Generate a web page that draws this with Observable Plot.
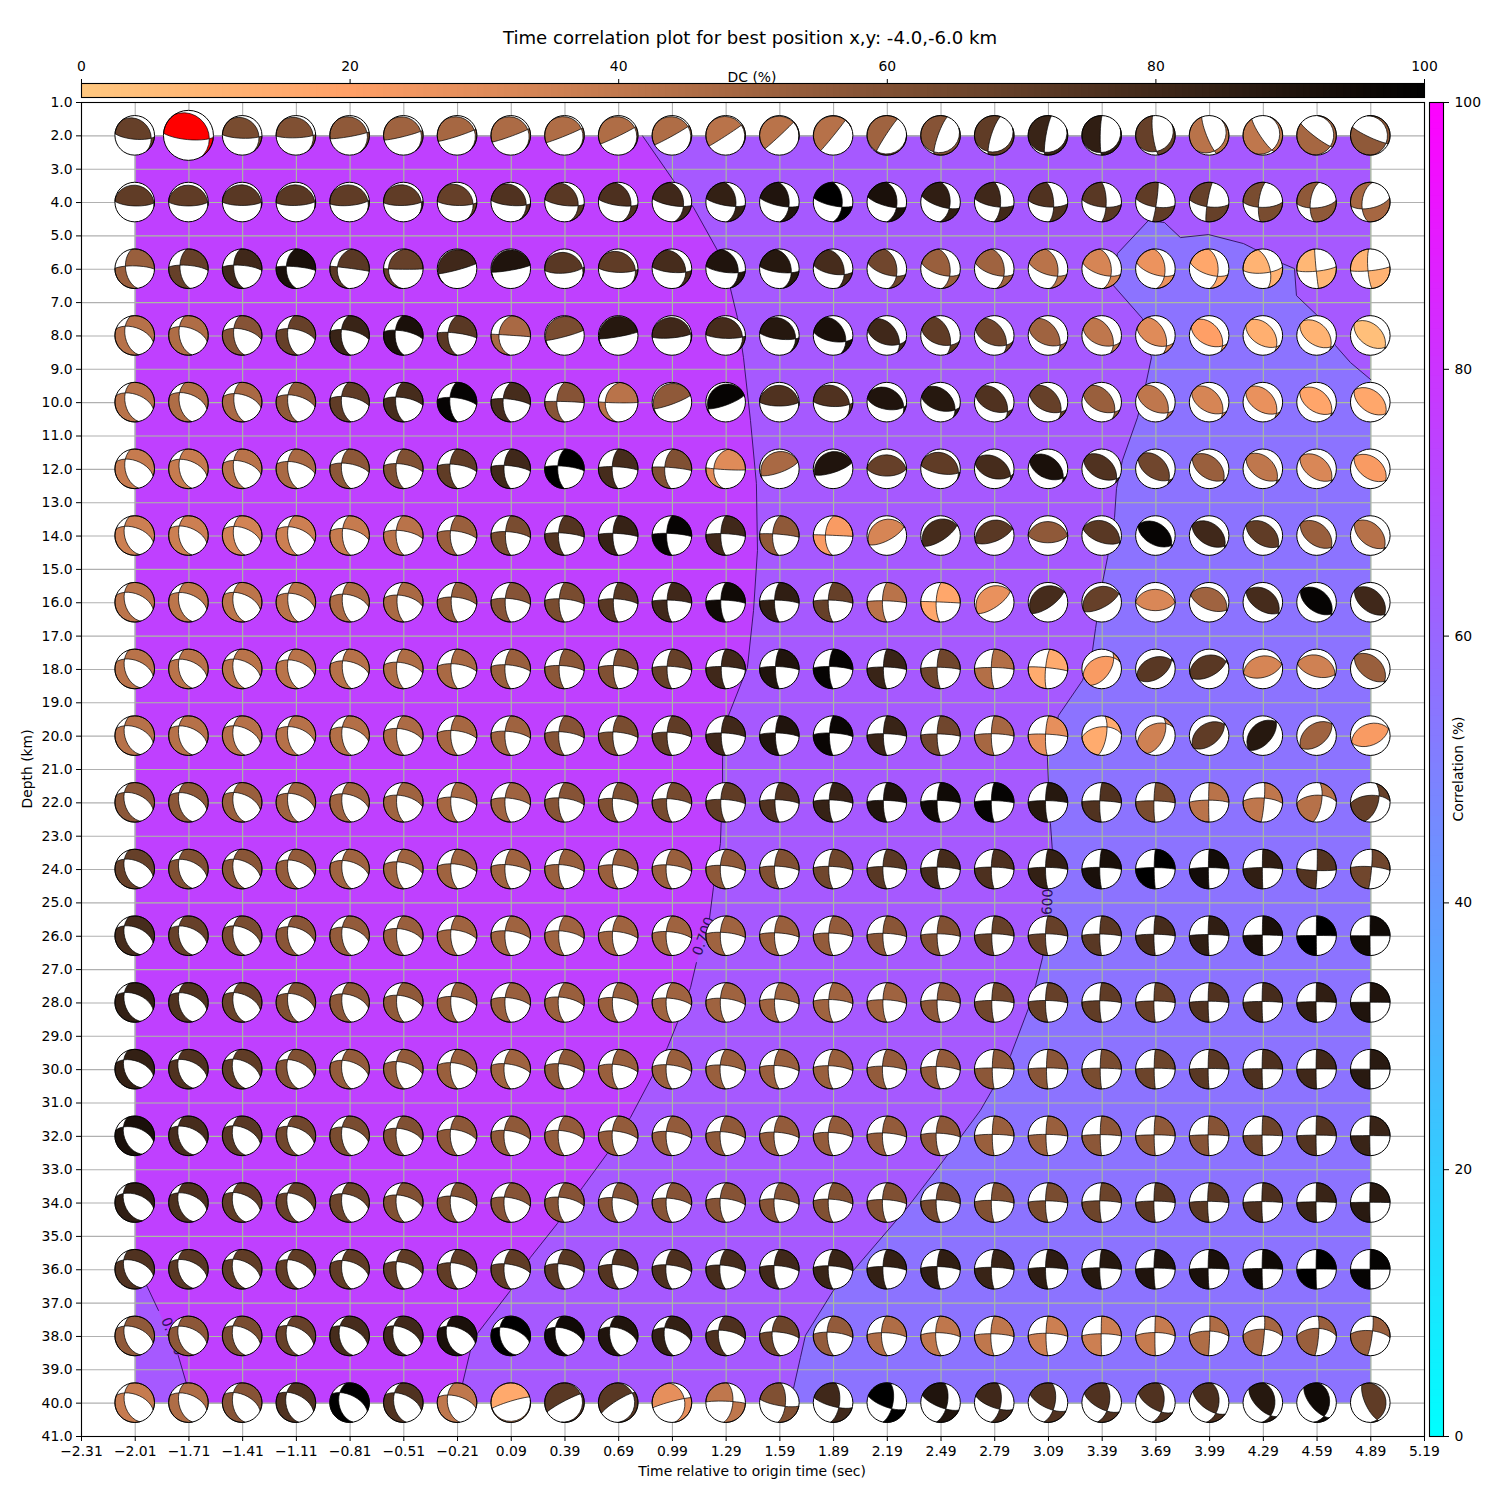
<!DOCTYPE html>
<html><head><meta charset="utf-8">
<script src="https://cdn.jsdelivr.net/npm/d3@7"></script>
<script src="https://cdn.jsdelivr.net/npm/@observablehq/plot@0.6"></script>
<style>
html,body{margin:0;padding:0;background:#fff}
#page{position:relative;width:1500px;height:1500px;overflow:hidden;font-family:"DejaVu Sans";color:#000}
#page svg{position:absolute;top:0}
.lab{position:absolute;white-space:nowrap;font-size:13.9px;line-height:16px;transform:translate(-50%,-50%)}
</style></head><body><div id="page"></div>
<script>
const times=[-2.01,-1.71,-1.41,-1.11,-0.81,-0.51,-0.21,0.09,0.39,0.69,0.99,1.29,1.59,1.89,2.19,2.49,2.79,3.09,3.39,3.69,3.99,4.29,4.59,4.89];
const xTicks=[-2.31,...times,5.19];
const yTicks=d3.range(1,42);
const dcTicks=[0,20,40,60,80,100];
const corrTicks=[0,20,40,60,80,100];
// each ball: [strike, dip (sign = polarity), position of the null axis along the plane, DC %]
const d2=[[95,74,17,68],[95,76,17,68],[92,78,16,62],[88,80,14,60],[80,85,12,55],[76,85,11,50],[72,86,10,48],[70,86,10,46],[68,87,9,45],[64,87,9,45],[61,87,8,45],[57,88,6,42],[47,88,3,42],[39,88,1,43],[213,-86,5,50],[200,-80,11,58],[198,-78,14,70],[190,-82,14,82],[181,-84,14,85],[172,-80,20,68],[158,-80,18,42],[146,-80,14,40],[127,-82,12,48],[115,-82,12,55]];
const d4=[[92,74,3,70],[90,74,3,70],[90,76,4,72],[88,76,5,72],[85,76,8,70],[88,76,10,70],[92,76,20,68],[95,76,22,75],[97,76,30,72],[98,76,34,76],[100,76,39,80],[100,76,45,84],[102,75,47,90],[102,75,50,100],[105,74,45,92],[108,72,47,85],[100,72,62,80],[95,70,65,75],[97,70,70,72],[100,70,85,70],[97,70,97,68],[90,68,108,62],[85,66,118,55],[78,65,128,48]];
const d6=[[172,52,105,52],[175,55,107,68],[175,55,107,80],[178,50,101,92],[185,38,93,72],[185,26,85,68],[75,-85,177,80],[80,-84,178,90],[85,72,10,72],[92,75,14,70],[95,75,30,78],[97,75,35,90],[97,75,38,88],[100,68,40,78],[107,66,43,65],[107,66,45,52],[107,66,43,50],[107,66,43,42],[107,66,45,33],[108,66,45,26],[108,66,48,16],[85,72,60,10],[84,80,92,8],[84,82,100,10]];
const d8=[[168,50,134,43],[170,52,131,45],[173,55,122,58],[175,56,120,68],[177,55,115,82],[178,56,112,92],[180,52,102,72],[183,40,91,47],[75,-85,177,62],[80,-85,178,88],[85,80,5,80],[92,78,16,78],[97,75,18,88],[100,65,33,92],[105,52,30,80],[107,52,40,70],[108,50,30,65],[108,50,30,50],[110,50,31,40],[112,50,32,30],[115,50,20,20],[120,50,15,12],[122,50,11,10],[125,48,6,4]];
const d10=[[168,50,134,42],[170,52,134,45],[173,56,128,47],[175,56,122,55],[176,56,115,70],[177,58,112,78],[178,60,110,98],[180,58,104,78],[180,58,93,58],[185,35,85,42],[70,-82,176,55],[70,-78,175,98],[90,74,3,75],[92,72,18,75],[100,60,13,90],[105,55,22,88],[110,52,24,75],[112,52,24,68],[112,52,24,52],[115,52,23,40],[118,50,17,33],[120,50,15,27],[122,50,8,17],[125,50,3,16]];
const d12=[[168,50,136,38],[170,52,134,38],[172,54,128,42],[175,56,122,47],[176,56,115,56],[178,60,112,60],[178,60,110,70],[180,62,104,80],[180,62,102,100],[180,65,99,78],[182,60,96,60],[187,40,85,30],[70,-75,178,47],[72,-75,178,90],[90,60,2,68],[100,70,8,70],[105,50,14,78],[112,50,14,92],[115,50,14,75],[120,50,15,65],[122,50,9,52],[122,50,11,40],[123,50,7,32],[125,50,3,22]];
const d14=[[165,48,136,36],[170,50,134,36],[172,54,131,34],[175,56,128,36],[177,60,120,38],[178,60,112,42],[179,62,110,52],[180,68,106,62],[180,65,101,74],[180,68,99,83],[180,68,99,98],[180,70,98,80],[182,62,96,55],[182,58,91,22],[62,70,2,33],[57,70,2,78],[68,66,2,72],[90,60,1,55],[110,62,3,72],[118,52,6,98],[120,52,6,80],[122,52,6,70],[125,50,6,52],[127,50,7,43]];
const d16=[[163,49,140,41],[168,50,136,41],[172,52,134,41],[173,57,130,42],[175,60,125,46],[178,64,120,47],[178,66,112,53],[180,67,106,58],[180,68,104,62],[180,70,104,72],[180,70,99,80],[180,70,99,95],[180,70,99,85],[180,70,99,68],[180,72,96,42],[182,72,91,16],[55,70,2,27],[55,70,3,78],[62,68,3,68],[90,55,1,32],[112,60,3,50],[122,55,4,78],[125,52,5,98],[127,52,6,80]];
const d18=[[163,49,140,42],[168,50,136,42],[172,52,134,42],[173,56,130,42],[175,60,125,43],[178,62,118,45],[178,65,112,47],[180,66,107,52],[180,68,104,56],[180,70,104,60],[180,70,101,68],[180,72,100,80],[180,74,100,90],[180,74,100,98],[180,76,98,82],[180,76,97,65],[180,78,96,44],[185,80,95,14],[250,-40,151,22],[55,50,10,72],[62,60,8,72],[75,55,2,33],[105,58,3,35],[127,52,6,52]];
const d20=[[163,49,140,43],[168,50,136,43],[172,52,134,43],[173,56,130,43],[175,58,127,44],[178,62,120,46],[178,64,112,48],[180,66,108,50],[180,66,106,58],[180,68,105,62],[180,70,104,70],[180,72,101,80],[180,74,101,90],[180,75,101,97],[180,76,98,82],[180,76,97,65],[180,78,98,48],[182,80,96,28],[265,-53,114,14],[245,-42,148,35],[50,52,5,70],[42,55,3,88],[50,50,3,50],[68,50,2,22]];
const d22=[[163,48,140,56],[168,50,136,56],[172,52,134,52],[173,56,130,50],[175,58,127,50],[178,62,120,50],[178,64,112,48],[180,66,108,50],[180,66,108,58],[180,66,106,60],[180,68,105,63],[180,70,102,70],[180,72,101,75],[180,74,100,83],[180,76,98,90],[180,76,98,95],[180,78,97,98],[180,80,97,88],[181,82,96,75],[181,84,96,62],[180,88,99,42],[5,85,72,40],[10,70,58,43],[17,58,55,68]];
const d24=[[163,48,140,68],[168,50,136,60],[172,52,134,57],[173,56,130,54],[175,58,127,50],[178,62,120,50],[178,64,112,50],[180,66,108,50],[180,66,108,52],[180,66,107,52],[180,66,107,52],[180,68,105,55],[180,70,102,60],[180,72,101,65],[180,74,100,72],[180,76,98,78],[180,78,98,76],[180,80,97,84],[180,82,97,92],[180,85,96,100],[180,87,96,94],[180,88,96,85],[2,88,96,74],[5,85,80,65]];
const d26=[[163,48,140,78],[168,50,136,68],[172,52,134,62],[173,56,130,57],[175,58,127,54],[178,62,120,52],[178,64,115,50],[180,66,110,50],[180,66,110,50],[180,66,108,50],[180,66,107,50],[180,68,104,50],[180,70,102,52],[180,72,101,54],[180,74,100,57],[180,76,98,60],[180,80,98,68],[180,80,98,68],[180,82,97,72],[180,84,96,78],[180,86,95,85],[180,88,93,92],[180,89,91,100],[180,89,90,95]];
const d28=[[163,48,140,84],[168,50,136,75],[172,52,134,67],[173,56,130,60],[175,58,127,56],[178,62,120,55],[178,64,115,53],[180,66,110,52],[180,64,112,52],[180,66,110,52],[180,66,108,50],[180,68,107,50],[180,70,104,50],[180,72,102,50],[180,74,101,50],[180,76,100,56],[180,80,98,65],[180,80,98,68],[180,82,97,70],[180,84,96,68],[180,86,95,75],[180,87,94,78],[180,88,93,85],[180,89,91,90]];
const d30=[[160,47,140,84],[165,48,138,75],[170,50,136,70],[173,53,132,60],[175,57,128,54],[177,60,122,54],[178,62,117,52],[180,62,112,50],[180,64,112,55],[180,65,110,52],[180,66,108,52],[180,67,107,52],[180,68,105,52],[180,70,104,52],[180,72,102,54],[180,72,101,54],[180,82,95,56],[180,84,95,57],[180,84,94,62],[180,85,94,66],[180,86,93,72],[180,87,92,76],[180,88,91,80],[180,89,90,87]];
const d32=[[158,47,140,92],[165,48,138,78],[170,50,136,72],[173,53,132,65],[175,57,128,62],[177,60,122,60],[178,62,117,56],[180,62,112,55],[180,64,112,54],[180,65,110,54],[180,66,108,54],[180,67,107,55],[180,68,105,54],[180,70,104,54],[180,72,102,54],[180,72,101,56],[180,82,96,52],[180,82,96,52],[180,84,95,56],[180,85,94,55],[180,86,94,58],[180,87,93,66],[180,88,93,74],[180,88,91,82]];
const d34=[[157,47,141,85],[165,48,138,76],[170,50,136,70],[173,53,132,68],[175,57,128,66],[177,60,122,60],[178,62,117,60],[180,62,112,58],[180,64,112,58],[180,65,110,58],[180,66,108,58],[180,67,107,58],[180,68,105,58],[180,70,104,60],[180,72,102,60],[180,72,101,64],[180,78,99,60],[180,80,97,62],[180,82,97,66],[180,84,96,72],[180,84,95,72],[180,86,94,76],[180,88,93,82],[180,88,91,87]];
const d36=[[160,47,140,75],[165,48,138,72],[170,50,136,70],[173,53,132,70],[175,57,128,70],[177,60,122,70],[178,62,117,70],[180,62,112,70],[178,62,113,72],[178,64,110,74],[180,65,108,76],[180,66,107,78],[180,68,105,80],[180,70,104,82],[180,74,101,84],[180,76,101,85],[180,78,98,82],[180,80,97,86],[180,82,96,88],[180,84,95,90],[180,86,94,92],[180,87,93,95],[180,88,91,100],[180,89,90,98]];
const d38=[[163,48,140,55],[165,48,138,56],[170,50,136,62],[172,50,136,68],[170,47,136,78],[170,47,136,80],[165,47,138,92],[165,45,134,100],[170,52,130,95],[172,55,130,90],[175,58,125,84],[176,60,115,76],[177,60,108,66],[178,65,106,54],[178,68,104,45],[178,70,104,40],[180,76,99,40],[180,82,101,36],[180,88,99,36],[180,88,104,38],[2,88,70,45],[5,85,62,48],[5,82,58,52],[8,83,68,52]];
const d40=[[165,48,138,38],[168,50,136,45],[172,50,135,58],[172,48,136,75],[170,45,136,100],[172,50,134,75],[172,50,125,40],[253,-84,1,15],[242,84,172,72],[238,80,165,72],[255,85,145,28],[272,84,120,40],[100,78,64,60],[105,75,62,80],[110,72,63,100],[112,72,60,90],[110,70,60,80],[115,68,58,75],[118,66,55,75],[120,64,50,75],[125,62,42,77],[135,62,28,88],[140,65,25,95],[155,70,8,70]];
const depthRows=[[2,d2],[4,d4],[6,d6],[8,d8],[10,d10],[12,d12],[14,d14],[16,d16],[18,d18],[20,d20],[22,d22],[24,d24],[26,d26],[28,d28],[30,d30],[32,d32],[34,d34],[36,d36],[38,d38],[40,d40]];
// contour edges, [time, depth]
const highA=[[0.823,2],[0.996,3.34],[1.108,4.15],[1.242,5.44],[1.314,6.58],[1.353,7.45],[1.387,8.65],[1.426,10.54],[1.459,12.42],[1.465,14.43],[1.443,16.23],[1.409,17.94],[1.303,19.38],[1.27,20.64],[1.27,21.42],[1.258,23.22],[1.219,24.54],[1.197,25.47]];
const highB=[[1.124,26.79],[1.091,27.54],[1.018,28.59],[0.962,29.34],[0.879,30.18],[0.756,31.43],[0.627,32.51],[0.488,33.53],[0.348,34.61],[0.197,35.63],[0.086,36.62],[-0.099,37.91],[-0.138,38.42],[-0.182,39.41],[-0.205,40]];
const leftB=[[-1.701,40],[-1.724,39.41],[-1.77,38.57]];
const leftA=[[-1.88,37.22],[-1.941,36.53],[-2.01,35.78]];
const lowA=[[4.89,9.31],[4.777,8.8],[4.693,8.29],[4.592,7.39],[4.475,6.79],[4.464,5.98],[4.397,5.83],[4.235,5.38],[4.179,5.23],[3.984,4.96],[3.827,5.05],[3.738,4.6],[3.648,4.54],[3.475,5.53],[3.453,6.49],[3.615,7.48],[3.665,8.65],[3.632,9.49],[3.587,10.45],[3.503,11.73],[3.47,12.57],[3.459,13.44],[3.42,14.64],[3.392,15.39],[3.353,16.77],[3.336,17.43],[3.28,18.33],[3.146,19.38],[3.084,20.64],[3.09,21.42],[3.101,22.62],[3.112,23.43],[3.09,24.6]];
const lowB=[[3.073,25.8],[3.057,26.64],[3.018,27.48],[2.978,28.17],[2.878,29.58],[2.783,30.54],[2.71,31.22],[2.504,32.72],[2.303,34.13],[2.001,36.02],[1.889,36.62],[1.733,37.97],[1.705,38.63],[1.666,39.56],[1.649,40]];
const contourLabels=[{t:1.164,d:26,text:"0.700",rotate:-70},{t:3.084,d:25.17,text:"0.600",rotate:-88},{t:-1.802,d:38,text:"0.700",rotate:68}];
const regionMid="#A659FF",regionHigh="#BF40FF",regionLow="#8C73FF";

const balls=depthRows.flatMap(([depth,row])=>row.map(([s,dip,along,dc],i)=>({t:times[i],depth,s,dip,along,dc,best:depth===2&&i===1})));
const dcColor={type:"linear",domain:[0,20,100],range:["#FFC77F","#FF9F66","#000000"],interpolate:"rgb"};
const rad=Math.PI/180;
const toLonLat=v=>[Math.atan2(v[0],-v[1])/rad,Math.asin(Math.max(-1,Math.min(1,v[2])))/rad];
const neg=v=>v.map(a=>-a);
function lune(b,a,c){
  const ring=[];
  for(let x=0;x<=180;x+=15){const k=Math.cos(x*rad),m=Math.sin(x*rad);ring.push(toLonLat(b.map((q,i)=>k*q+m*a[i])));}
  for(let x=165;x>=15;x-=15){const k=Math.cos(x*rad),m=Math.sin(x*rad);ring.push(toLonLat(b.map((q,i)=>k*q+m*c[i])));}
  ring.push(ring[0]);
  let f={type:"Polygon",coordinates:[ring]};
  if(d3.geoArea(f)>2*Math.PI) f={type:"Polygon",coordinates:[ring.slice().reverse()]};
  return f;
}
function sectors(d){
  const sgn=d.dip<0?-1:1,dd=Math.abs(d.dip)*rad,st=d.s*rad,az=st+Math.PI/2,la=d.along*rad;
  const h=[Math.sin(st),Math.cos(st),0];
  const D=[Math.cos(dd)*Math.sin(az),Math.cos(dd)*Math.cos(az),Math.sin(dd)];
  const n=[Math.sin(dd)*Math.sin(az),Math.sin(dd)*Math.cos(az),-Math.cos(dd)];
  const b=h.map((q,i)=>Math.cos(la)*q+Math.sin(la)*D[i]);
  const t=h.map((q,i)=>Math.sin(la)*q-Math.cos(la)*D[i]);
  const side=sgn>0?n:neg(n);
  return [lune(b,side,t),lune(b,neg(side),neg(t))];
}
function beachRender(radius,constFill){
  return function(index,scales,values,dimensions,context){
    const g=d3.select(context.document.createElementNS("http://www.w3.org/2000/svg","g"));
    const proj=d3.geoAzimuthalEqualArea().rotate([0,-90]).clipAngle(90).precision(0.3).scale(radius/Math.SQRT2);
    const path=d3.geoPath(proj);
    for(const i of index){
      const cx=values.x[i],cy=values.y[i],fill=constFill||values.fill[i],d=this.__data[i];
      proj.translate([cx,cy]);
      g.append("circle").attr("cx",cx).attr("cy",cy).attr("r",radius).attr("fill","#fff");
      for(const f of sectors(d)) g.append("path").attr("d",path(f)).attr("fill",fill).attr("stroke","#000").attr("stroke-width",0.7);
      g.append("circle").attr("cx",cx).attr("cy",cy).attr("r",radius).attr("fill","none").attr("stroke","#000").attr("stroke-width",1);
    }
    return g.node();
  };
}
function ballMark(data,radius,constFill){
  const holder={__data:data};
  return Plot.dot(data,{x:"t",y:"depth",r:radius,...(constFill?{fill:constFill}:{fill:"dc"}),render:beachRender(radius,constFill).bind(holder)});
}
const gridIn="#a9bd9f",gridOut="#b0b0b0",edge="#2c0f5c";
const edgeLine=a=>Plot.line(a,{x:p=>p[0],y:p=>p[1],stroke:edge,strokeWidth:0.9});
const poly=(a,c)=>Plot.line(a,{x:p=>p[0],y:p=>p[1],fill:c,stroke:"none"});
const base={fontFamily:'"DejaVu Sans"',fontSize:"13.9px",background:"transparent",overflow:"visible",color:"#000"};
const main=Plot.plot({width:1500,height:1500,marginLeft:81,marginRight:76,marginTop:102,marginBottom:64,style:base,
  x:{domain:[-2.31,5.19],label:null},y:{domain:[1,41],reverse:true,label:null},color:dcColor,
  marks:[
    Plot.ruleX(xTicks,{stroke:gridOut,strokeWidth:1.1}),
    Plot.ruleY(yTicks,{stroke:gridOut,strokeWidth:1.1}),
    Plot.rect([0],{x1:()=>-2.01,x2:()=>4.89,y1:()=>2,y2:()=>40,fill:regionMid}),
    poly([[-2.01,2],...highA,...highB,...leftB,...leftA],regionHigh),
    poly([...lowA,...lowB,[4.89,40]],regionLow),
    Plot.ruleX(times,{y1:()=>2,y2:()=>40,stroke:gridIn,strokeWidth:1.1}),
    Plot.ruleY(d3.range(2,41),{x1:()=>-2.01,x2:()=>4.89,stroke:gridIn,strokeWidth:1.1}),
    edgeLine(highA),edgeLine(highB),edgeLine(leftA),edgeLine(leftB),edgeLine(lowA),edgeLine(lowB),
    Plot.text(contourLabels,{x:"t",y:"d",text:"text",rotate:"rotate",fill:edge,fontSize:13.9}),
    ballMark(balls.filter(b=>!b.best),19.8),
    ballMark(balls.filter(b=>b.best),25,"#ff0000"),
    Plot.frame({stroke:"#000",strokeWidth:1.1}),
    Plot.axisX({ticks:xTicks,tickFormat:d3.format(".2f"),tickSize:5,tickPadding:5,label:null,anchor:"bottom"}),
    Plot.axisY({ticks:yTicks,tickFormat:d3.format(".1f"),tickSize:5,tickPadding:4,label:null,anchor:"left"})
  ]});
const cells=d3.range(0,100,0.5);
const topBar=Plot.plot({width:1500,height:100,marginLeft:81,marginRight:76,marginTop:83,marginBottom:3,style:base,
  x:{domain:[0,100],label:null},y:{axis:null},color:dcColor,
  marks:[
    Plot.rect(cells,{x1:d=>d,x2:d=>Math.min(100,d+0.6),fill:d=>d}),
    Plot.frame({stroke:"#000",strokeWidth:1.1}),
    Plot.axisX({anchor:"top",ticks:dcTicks,tickSize:5,tickPadding:8,label:null,tickFormat:d3.format("d")})
  ]});
const rightBar=Plot.plot({width:100,height:1500,marginLeft:29,marginRight:57,marginTop:102,marginBottom:64,style:base,
  y:{domain:[0,100],label:null},x:{axis:null},color:{type:"linear",domain:[0,100],range:["#00ffff","#ff00ff"],interpolate:"rgb"},
  marks:[
    Plot.rect(cells,{y1:d=>d,y2:d=>Math.min(100,d+0.6),fill:d=>d}),
    Plot.frame({stroke:"#000",strokeWidth:1.1}),
    Plot.axisY({anchor:"right",ticks:corrTicks,tickSize:5,tickPadding:6,label:null,tickFormat:d3.format("d")})
  ]});
const page=document.getElementById("page");
main.style.left="0px";topBar.style.left="0px";rightBar.style.left="1400px";
page.append(main,topBar,rightBar);
function label(txt,x,y,rot,size){
  const e=document.createElement("div");e.className="lab";e.textContent=txt;
  e.style.left=x+"px";e.style.top=y+"px";
  if(rot)e.style.transform="translate(-50%,-50%) rotate("+rot+"deg)";
  if(size)e.style.fontSize=size+"px";
  page.append(e);
}
label("Time correlation plot for best position x,y: -4.0,-6.0 km",750,38,0,18.1);
label("DC (%)",752,77);
label("Time relative to origin time (sec)",752,1471);
label("Depth (km)",27,769,-90);
label("Correlation (%)",1458,769,-90);
</script></body></html>
